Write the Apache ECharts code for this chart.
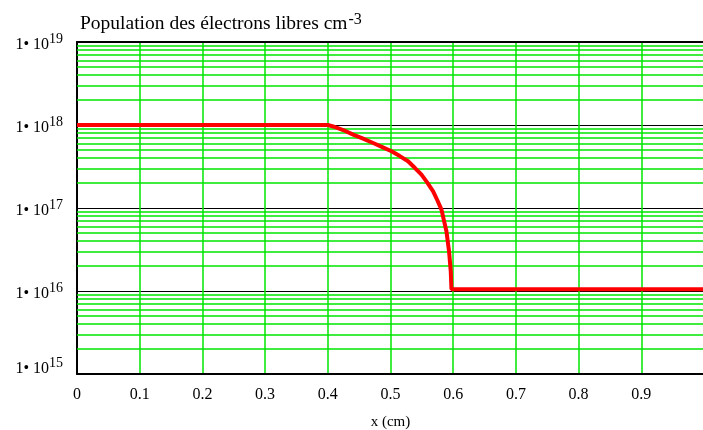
<!DOCTYPE html>
<html><head><meta charset="utf-8">
<script src="https://cdn.jsdelivr.net/npm/echarts@6/dist/echarts.min.js"></script>
<style>html,body{margin:0;padding:0;background:#fff}#c{width:703px;height:430px}</style>
</head><body><div id="c"></div>
<script>
const xValues = [0, 0.1, 0.2, 0.3, 0.4, 0.4085, 0.4245, 0.4404, 0.4563, 0.4723, 0.487, 0.5016, 0.5148, 0.528, 0.5387, 0.5494, 0.5587, 0.568, 0.5747, 0.5813, 0.5852, 0.5892, 0.5934, 0.5961, 0.5972, 0.6, 0.7, 0.8, 0.9, 1.0];
const nValues = [1e18, 1e18, 1e18, 1e18, 1e18, 9.6e17, 8.7e17, 7.66e17, 6.85e17, 6.07e17, 5.42e17, 4.82e17, 4.22e17, 3.66e17, 3.05e17, 2.52e17, 2.02e17, 1.59e17, 1.24e17, 9.55e16, 7.1e16, 5.24e16, 3.0e16, 1.73e16, 1.05e16, 1.05e16, 1.05e16, 1.05e16, 1.05e16, 1.05e16];
const xTickLabels = ['0', '0.1', '0.2', '0.3', '0.4', '0.5', '0.6', '0.7', '0.8', '0.9'];
const decadeExponents = [15, 16, 17, 18, 19];
const minorMantissas = [2, 3, 4, 5, 6, 7, 8, 9];
const titleText = 'Population des électrons libres cm';
const titleSup = '-3';
const xName = 'x (cm)';

const minorLines = [];
decadeExponents.slice(0, -1).forEach(e => minorMantissas.forEach(m => minorLines.push({ yAxis: m * Math.pow(10, e) })));

const font = 'Liberation Serif';
const chart = echarts.init(document.getElementById('c'));
chart.setOption({
  animation: false,
  title: {
    text: '{b|' + titleText + '}{s|' + titleSup + '}',
    left: 75, top: 5,
    textStyle: {
      fontWeight: 'normal',
      rich: {
        b: { fontFamily: font, fontSize: 19.5, fontWeight: 'normal', color: '#000', padding: [4, 0, 0, 0] },
        s: { fontFamily: font, fontSize: 16, fontWeight: 'normal', color: '#000', padding: [0, 0, 5, 1] }
      }
    }
  },
  grid: { left: 77, top: 42, width: 627, height: 332, outerBoundsMode: 'none', containLabel: false },
  xAxis: [{
    type: 'value', min: 0, max: 1, interval: 0.1,
    axisLine: { show: true, onZero: false, lineStyle: { color: '#000', width: 2 } },
    axisTick: { show: false },
    axisLabel: {
      fontFamily: font, fontSize: 16, color: '#000', margin: 13,
      formatter: v => { const i = Math.round(v * 10); return i < xTickLabels.length ? xTickLabels[i] : ''; }
    },
    splitLine: { show: true, lineStyle: { color: '#00e600', width: 1.5 } },
    name: xName, nameLocation: 'middle', nameGap: 41,
    nameTextStyle: { fontFamily: font, fontSize: 15, color: '#000' }
  }, {
    type: 'value', position: 'top', min: 0, max: 1,
    axisLine: { show: true, lineStyle: { color: '#000', width: 2 } },
    axisTick: { show: false }, axisLabel: { show: false }, splitLine: { show: false }
  }],
  yAxis: {
    type: 'log', logBase: 10, min: 1e15, max: 1e19,
    axisLine: { show: true, lineStyle: { color: '#000', width: 2 } },
    axisTick: { show: false },
    axisLabel: {
      margin: 14,
      formatter: v => {
        const e = Math.round(Math.log10(v));
        const low = e === decadeExponents[0];
        return '{' + (low ? 'bl' : 'b') + '|1• 10}{' + (low ? 'sl' : 's') + '|' + e + '}';
      },
      rich: {
        b: { fontFamily: font, fontSize: 16, color: '#000', padding: [6, 0, 0, 0] },
        s: { fontFamily: font, fontSize: 14, color: '#000', padding: [0, 0, 6, 0] },
        bl: { fontFamily: font, fontSize: 16, color: '#000', padding: [6, 0, 16, 0] },
        sl: { fontFamily: font, fontSize: 14, color: '#000', padding: [0, 0, 22, 0] }
      }
    },
    splitLine: { show: true, lineStyle: { color: '#000', width: 1 } },
    minorTick: { show: false }
  },
  series: [{
    type: 'line', data: xValues.map((x, i) => [x, nValues[i]]),
    showSymbol: false, symbol: 'none',
    lineStyle: { color: '#ff0000', width: 4 },
    z: 5,
    markLine: {
      silent: true, symbol: 'none', animation: false,
      label: { show: false },
      lineStyle: { color: '#00e600', width: 1.5, type: 'solid' },
      data: minorLines
    }
  }]
});
</script></body></html>
